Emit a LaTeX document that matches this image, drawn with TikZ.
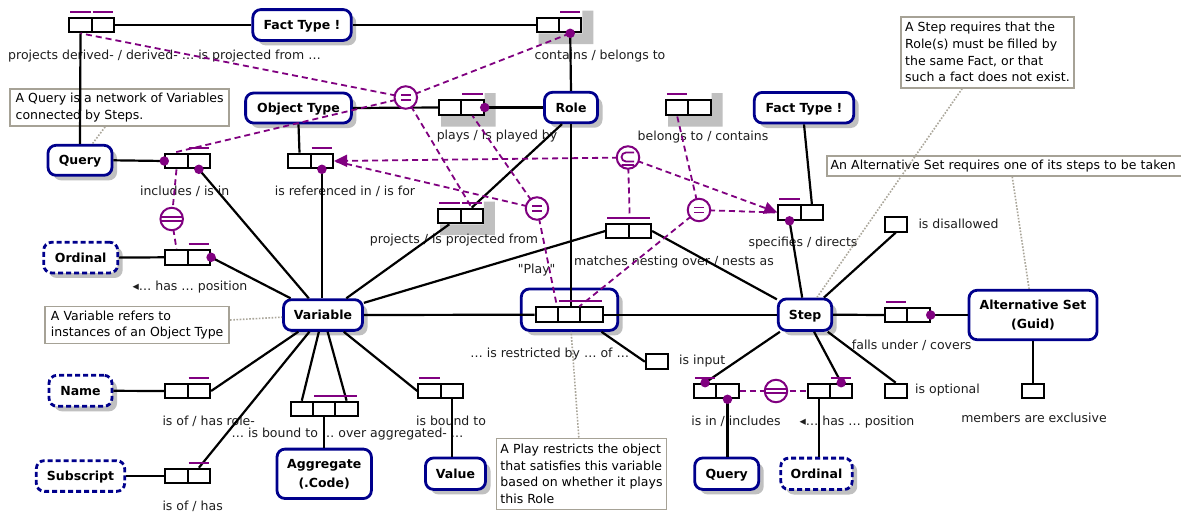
\documentclass[tikz,border=0pt]{standalone}
\usepackage{fontspec}
\setmainfont{DejaVu Sans}
\newfontfamily\plainfont{DejaVu Sans}
\usetikzlibrary{arrows.meta,shadows}
\definecolor{entblue}{RGB}{0,0,140}
\definecolor{pur}{RGB}{128,0,128}
\definecolor{shgray}{RGB}{192,192,192}
\definecolor{notegray}{RGB}{166,162,150}
\definecolor{dotgray}{RGB}{170,166,154}
\definecolor{labcol}{RGB}{30,30,30}
\newcommand\FactB[3]{%
  \node[role] (#1a) at ({#2-11.2},#3) {};
  \node[role] (#1b) at ({#2+11.2},#3) {};}
\newcommand\FactC[3]{%
  \node[role] (#1a) at ({#2-22.4},#3) {};
  \node[role] (#1b) at (#2,#3) {};
  \node[role] (#1c) at ({#2+22.4},#3) {};}
\newcommand\UBar[2]{\draw[ubar] ([xshift=2pt,yshift=5pt]#1.north west) -- ([xshift=-2pt,yshift=5pt]#2.north east);}
\newcommand\FShadow[2]{\fill[shgray] ({#1+23.3},{#2-14.5}) -- ({#1+34.3},{#2-14.5}) -- ({#1+34.3},{#2+19}) -- ({#1-20.3},{#2+19}) -- ({#1-20.3},{#2+8.3}) -- ({#1+23.3},{#2+8.3}) -- cycle;}
\begin{document}
\begin{tikzpicture}[x=1pt,y=-1pt,
  font=\fontsize{12.5}{16.7}\selectfont,
  ent/.style={draw=entblue,line width=2.8pt,rounded corners=8pt,fill=white,inner sep=0pt,align=center,font=\bfseries\fontsize{12.5}{19}\selectfont},
  one/.style={text height=9.1pt,text depth=0pt},
  sh/.style={drop shadow={shadow xshift=5pt,shadow yshift=-5pt,fill=shgray,opacity=1}},
  dent/.style={dash pattern=on 5pt off 3pt},
  role/.style={draw,line width=2pt,fill=white,minimum width=22.4pt,minimum height=14.6pt,inner sep=0pt},
  ubar/.style={draw=pur,line width=2pt},
  mdot/.style={circle,fill=pur,minimum size=9.5pt,inner sep=0pt},
  conn/.style={draw,line width=2.2pt},
  cdash/.style={draw=pur,line width=1.8pt,dash pattern=on 6pt off 4pt},
  arr/.style={-{Triangle[length=13pt,width=12pt]}},
  cons/.style={circle,draw=pur,line width=2pt,fill=white,minimum size=22.5pt,inner sep=0pt},
  eqc/.style={cons,path picture={\draw[pur,line width=1.8pt]
     ([shift={(-5pt,2.5pt)}]path picture bounding box.center) -- ++(10pt,0pt)
     ([shift={(-5pt,-2.5pt)}]path picture bounding box.center) -- ++(10pt,0pt);}},
  pidc/.style={cons,path picture={\draw[pur,line width=1.6pt]
     ([shift={(-13pt,2pt)}]path picture bounding box.center) -- ++(26pt,0pt)
     ([shift={(-13pt,-2pt)}]path picture bounding box.center) -- ++(26pt,0pt);}},
  subc/.style={cons,path picture={\draw[pur,line width=1.8pt]
     ([shift={(6pt,5pt)}]path picture bounding box.center) -- ++(-8pt,0pt)
       arc[start angle=90,end angle=270,radius=4.5pt] -- ++(8pt,0pt)
     ([shift={(-6.5pt,-7.5pt)}]path picture bounding box.center) -- ++(12.5pt,0pt);}},
  note/.style={draw=notegray,line width=1.8pt,fill=white,align=left,inner xsep=4pt,inner ysep=2pt},
  ndot/.style={draw=dotgray,line width=1.6pt,dash pattern=on 1.6pt off 1.6pt},
  lab/.style={inner sep=0pt,text=labcol}
]
\fill[white] (0,0) rectangle (1181,520);
\useasboundingbox (0,0) rectangle (1181,520);

% fact type shadows
\FShadow{559}{25}
\FShadow{461.3}{107.5}
\FShadow{688.3}{107.5}
\FShadow{460.5}{216}

% entity types
\node[ent,one,sh,minimum width=98.4pt,minimum height=30.8pt] (ftTop) at (302,25) {Fact Type !};
\node[ent,one,sh,minimum width=105.8pt,minimum height=30pt] (objT) at (298.5,108) {Object Type};
\node[ent,one,sh,minimum width=53pt,minimum height=30.4pt] (roleE) at (571,107.5) {Role};
\node[ent,one,sh,minimum width=99.4pt,minimum height=30.6pt] (ftR) at (804,107.7) {Fact Type !};
\node[ent,one,sh,minimum width=64pt,minimum height=30pt] (qL) at (80,160.3) {Query};
\node[ent,one,sh,dent,minimum width=74pt,minimum height=30.7pt] (ordL) at (80.7,257.6) {Ordinal};
\node[ent,one,sh,minimum width=79pt,minimum height=30.7pt] (var) at (323,315) {Variable};
\node[ent,one,sh,minimum width=53.4pt,minimum height=31.4pt] (step) at (805,314.7) {Step};
\node[ent,minimum width=128pt,minimum height=49.4pt] (alt) at (1033,315) {Alternative Set\\(Guid)};
\node[ent,one,sh,dent,minimum width=63pt,minimum height=31pt] (nameE) at (80.5,390.8) {Name};
\node[ent,one,dent,minimum width=88.4pt,minimum height=30.7pt] (subE) at (80.5,476) {Subscript};
\node[ent,minimum width=94.4pt,minimum height=49.4pt] (aggE) at (324.2,473.8) {Aggregate\\(.Code)};
\node[ent,one,sh,minimum width=60pt,minimum height=31.4pt] (valE) at (455.5,473.7) {Value};
\node[ent,one,sh,minimum width=64pt,minimum height=31.4pt] (qB) at (726.7,473.7) {Query};
\node[ent,one,sh,dent,minimum width=71.4pt,minimum height=31.4pt] (ordB) at (816.5,473.8) {Ordinal};
\node[ent,sh,minimum width=96.4pt,minimum height=41.4pt] (play) at (569.5,309.7) {};

% notes
\node[note,minimum width=219pt,minimum height=37pt] (n1) at (119.7,107.5) {A Query is a network of Variables\\connected by Steps.};
\node[note,minimum width=184pt,minimum height=37pt] (n2) at (137.2,325) {A Variable refers to\\instances of an Object Type};
\node[note,minimum width=170pt,minimum height=71pt] (n3) at (581.5,473.9) {A Play restricts the object\\that satisfies this variable\\based on whether it plays\\this Role};
\node[note,minimum width=173.4pt,minimum height=71pt] (n4) at (987.5,52.2) {A Step requires that the\\Role(s) must be filled by\\the same Fact, or that\\such a fact does not exist.};
\node[note,anchor=west,text width=360pt,minimum height=20pt] (n5) at (825.7,165.8) {An Alternative Set requires one of its steps to be taken};

% fact types (roles)
\FactB{fA}{91.7}{25}
\FactB{fB}{559}{25}
\FactB{fC}{461.3}{107.5}
\FactB{fD}{688.3}{107.5}
\FactB{fE}{187.7}{161}
\FactB{fF}{310.7}{161}
\FactB{fG}{460.5}{216}
\FactB{fH}{628.7}{231}
\FactB{fI}{800.7}{212.5}
\FactB{fJ}{187.7}{257.3}
\FactB{fK}{907.3}{315}
\FactB{fL}{830}{391}
\FactB{fM}{716.3}{391}
\FactB{fN}{187.7}{391}
\FactB{fO}{187.7}{476}
\FactC{fP}{324.2}{409}
\FactB{fQ}{440.7}{391}
\FactC{pl}{569.2}{314.7}
\node[role] (uIn) at (657,361.7) {};
\node[role] (uDis) at (895.7,224.3) {};
\node[role] (uOpt) at (895.7,391) {};
\node[role] (uExc) at (1033,391) {};

% labels
\node[lab,anchor=mid] (l1) at (164.5,57) {projects derived- / derived- … is projected from …};
\node[lab,anchor=mid] (l2) at (600,57) {contains / belongs to};
\node[lab,anchor=mid] (l3) at (497,137) {plays / is played by};
\node[lab,anchor=mid] (l4) at (703,138) {belongs to / contains};
\node[lab,anchor=mid] (l5) at (184.7,193) {includes / is in};
\node[lab,anchor=mid] (l6) at (345,193) {is referenced in / is for};
\node[lab,anchor=mid] (l7) at (454,241) {projects / is projected from};
\node[lab,anchor=mid] (l8) at (674,262.7) {matches nesting over / nests as};
\node[lab,anchor=mid] (l9) at (803,244) {specifies / directs};
\node[lab,anchor=mid] (l10) at (190,287.7) {◂… has … position};
\node[lab,anchor=mid] (l11) at (536.7,271) {\plainfont "Play"};
\node[lab,anchor=mid] (l12) at (549.7,354.3) {… is restricted by … of …};
\node[lab,anchor=mid west] (l13) at (679,361.7) {is input};
\node[lab,anchor=mid west] (l14) at (918.3,225.3) {is disallowed};
\node[lab,anchor=mid] (l15) at (911.7,346.7) {falls under / covers};
\node[lab,anchor=mid west] (l16) at (915,391) {is optional};
\node[lab,anchor=mid] (l17) at (1034,419.3) {members are exclusive};
\node[lab,anchor=mid west] (l18) at (162.3,422.7) {is of / has role-};
\node[lab,anchor=mid] (l19) at (347.5,434.3) {… is bound to … over aggregated- …};
\node[lab,anchor=mid] (l20) at (451,422.7) {is bound to};
\node[lab,anchor=mid] (l21) at (736,422.7) {is in / includes};
\node[lab,anchor=mid] (l22) at (857,422.7) {◂… has … position};
\node[lab,anchor=mid west] (l23) at (162.3,507.7) {is of / has};

% note connectors
\draw[ndot] (n1) -- (qL);
\draw[ndot] (n2) -- (var);
\draw[ndot] (n3) -- (play);
\draw[ndot] (n4) -- (step);
\draw[ndot] (n5) -- (alt);

% solid connectors
\draw[conn] (fAb.east) -- (ftTop.west);
\draw[conn] (ftTop.east) -- (fBa.west);
\draw[conn] (fAa.south) -- (qL.north);
\draw[conn] (fBb.south) -- (roleE.north);
\draw[conn] (objT.east) -- (fCa.west);
\draw[conn] (fCb.east) -- (roleE.west);
\draw[conn] (roleE.south) -- (roleE.south |- plb.north);
\draw[conn] ([xshift=-9pt]roleE.south) -- (fGb.north);
\draw[conn] (fGa.south) -- (var);
\draw[conn] (objT.south) -- (fFa.north);
\draw[conn] (fFb.south) -- (var.north -| fFb.south);
\draw[conn] (fEb.south) -- (var);
\draw[conn] (qL.east) -- (fEa.west);
\draw[conn] (ordL.east) -- (fJa.west);
\draw[conn] (fJb.east) -- (var);
\draw[conn] (var) -- (fHa.west);
\draw[conn] (var.east) -- (pla.west);
\draw[conn] (plc.east) -- (step.west);
\draw[conn] (fHb.east) -- (step);
\draw[conn] (uIn.west) -- (play);
\draw[conn] (fIa.south) -- (step);
\draw[conn] (ftR.south) -- (fIb.north);
\draw[conn] (step) -- (uDis.south);
\draw[conn] (step.east) -- (fKa.west);
\draw[conn] (fKb.east) -- (alt.west);
\draw[conn] (step) -- (uOpt.north);
\draw[conn] (step) -- (fLb.north);
\draw[conn] (step) -- (fMa.north);
\draw[conn] (fMb.south) -- (fMb.south |- qB.north);
\draw[conn] (fLa.south) -- (fLa.south |- ordB.north);
\draw[conn] (alt.south) -- (uExc.north);
\draw[conn] (var) -- (fNb.east);
\draw[conn] (var) -- (fOb.north);
\draw[conn] (var) -- (fPa.north);
\draw[conn] (var) -- (fPc.north);
\draw[conn] (fPb.south) -- (aggE.north);
\draw[conn] (var) -- (fQa.west);
\draw[conn] (fQb.south) -- (fQb.south |- valE.north);
\draw[conn] (nameE.east) -- (fNa.west);
\draw[conn] (subE.east) -- (fOa.west);

% uniqueness bars
\UBar{fAa}{fAa} \UBar{fAb}{fAb}
\UBar{fBb}{fBb}
\UBar{fCb}{fCb}
\UBar{fDa}{fDa}
\UBar{fEb}{fEb}
\UBar{fFb}{fFb}
\UBar{fGa}{fGa} \UBar{fGb}{fGb}
\UBar{fHa}{fHb}
\UBar{fIa}{fIa}
\UBar{fJb}{fJb}
\UBar{fKa}{fKa}
\UBar{fLb}{fLb}
\UBar{fMa}{fMa}
\UBar{fNb}{fNb}
\UBar{fOb}{fOb}
\UBar{fPb}{fPc}
\UBar{fQa}{fQa}
\UBar{plb}{plc}

% constraint connectors
\coordinate (cC1) at (405.8,97.5);
\coordinate (cC2) at (537,208.5);
\coordinate (cC3) at (699,210);
\coordinate (cSub) at (628,157.5);
\coordinate (cPL) at (171.7,219);
\coordinate (cPB) at (776,391);
\draw[cdash] (cC1) -- (fAa.south);
\draw[cdash] (cC1) -- (fBb.south);
\draw[cdash] (cC1) -- ([xshift=-3pt]fEa.north);
\draw[cdash] (cC1) -- (fGb.north);
\draw[cdash] (cC2) -- (fCb.south);
\draw[cdash] (cC2) -- (fFb.east);
\draw[cdash] (cC2) -- (plb.north west);
\draw[cdash] (cC3) -- (fDa.south);
\draw[cdash] (cC3) -- (fIa.west);
\draw[cdash] (cC3) -- (plc.north west);
\draw[cdash] (cSub) -- ([yshift=5pt]fHa.north east);
\draw[cdash,arr,pur] (cSub) -- (fFb.east);
\draw[cdash,arr,pur] (cSub) -- (fIa.west);
\draw[cdash] (fEa.south) -- (cPL) -- (fJa.north);
\draw[cdash] (fMb.east) -- (cPB) -- (fLa.west);

% constraint shapes
\node[eqc] (C1) at (cC1) {};
\node[eqc] (C2) at (cC2) {};
\node[eqc] (C3) at (cC3) {};
\node[subc] (CS) at (cSub) {};
\node[pidc] (CPL) at (cPL) {};
\node[pidc] (CPB) at (cPB) {};

% mandatory dots
\node[mdot] (d1) at (fBb.south) {};
\node[mdot] (d2) at (fCb.east) {};
\node[mdot] (d3) at (fEa.west) {};
\node[mdot] (d4) at (fEb.south) {};
\node[mdot] (d5) at (fFb.south) {};
\node[mdot] (d6) at (fIa.south) {};
\node[mdot] (d7) at (fJb.east) {};
\node[mdot] (d8) at (fKb.east) {};
\node[mdot] (d9) at (fMa.north) {};
\node[mdot] (d10) at (fMb.south) {};
\node[mdot] (d11) at (fLb.north) {};
\end{tikzpicture}
\end{document}
